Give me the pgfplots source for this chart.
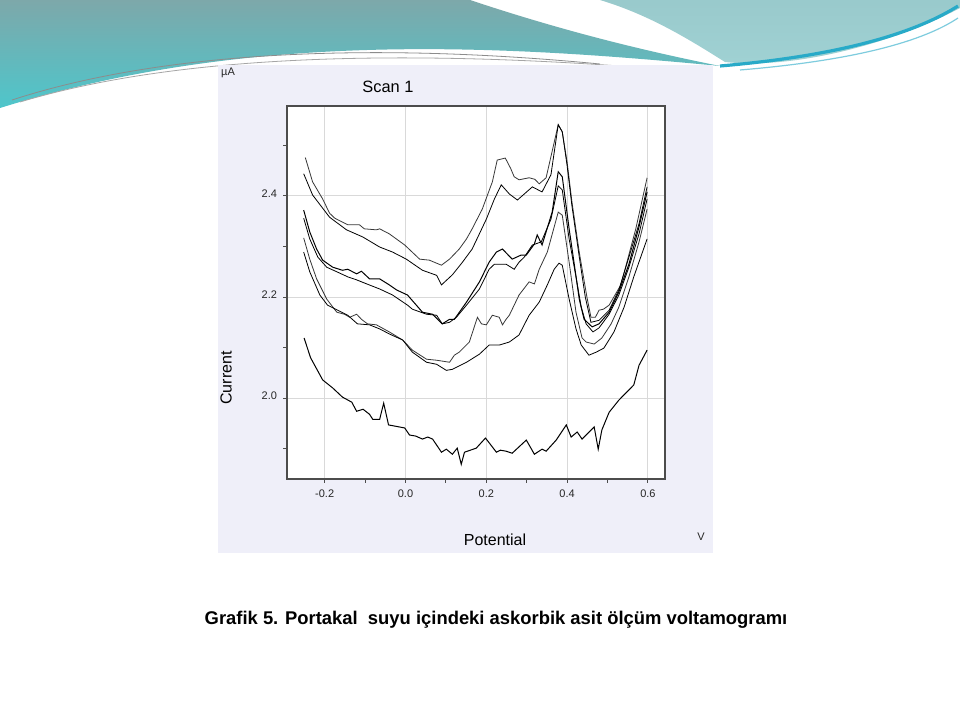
\documentclass[border=0pt]{standalone}
\usepackage{fontspec}
\setmainfont{Liberation Sans}
\usepackage{pgfplots}
\pgfplotsset{compat=1.18}
\definecolor{panel}{RGB}{239,239,249}
\definecolor{curve}{RGB}{55,55,55}
\definecolor{tealA}{RGB}{125,168,170}
\definecolor{tealB}{RGB}{78,198,203}
\definecolor{tealC}{RGB}{160,210,212}
\definecolor{tealD}{RGB}{40,170,200}
\begin{document}
\begin{tikzpicture}
\begin{scope}[x=0.5pt,y=-0.5pt]
\useasboundingbox (0,0) rectangle (960,716);
\fill[white] (0,0) rectangle (960,716);
% decoration
\shade[top color=tealA, bottom color=tealB]
  (0,0) -- (470,0) .. controls (560,30) and (640,50) .. (720,66)
  .. controls (500,45) and (250,30) .. (0,108) -- cycle;
\shade[top color=tealC!80!tealA, bottom color=tealC]
  (600,0) -- (960,0) -- (960,8) .. controls (900,40) and (800,70) .. (725,62)
  .. controls (690,40) and (650,15) .. (600,0) -- cycle;
\draw[black!45, line width=0.4pt] (12,100) .. controls (150,55) and (350,40) .. (600,64);
\draw[black!35, line width=0.4pt] (20,102) .. controls (160,60) and (360,48) .. (620,66);
\draw[tealD, line width=1.6pt] (720,66) .. controls (850,55) and (920,30) .. (958,6);
\draw[tealD!60, line width=0.6pt] (740,70) .. controls (860,60) and (925,40) .. (958,18);
% panel
\fill[panel] (218,65) rectangle (713,553);
\end{scope}
\begin{axis}[
  at={(143.5pt,-239.5pt)}, anchor=south west,
  scale only axis, width=189pt, height=186.5pt,
  xmin=-0.2933, xmax=0.6423, ymin=1.840, ymax=2.578,
  xtick={-0.2,0,0.2,0.4,0.6}, xticklabels={-0.2,0.0,0.2,0.4,0.6},
  minor xtick={-0.1,0.1,0.3,0.5},
  ytick={2.0,2.2,2.4}, yticklabels={2.0,2.2,2.4},
  minor ytick={1.9,2.1,2.3,2.5},
  xtick pos=bottom, ytick pos=left,
  tick align=outside, major tick length=2pt, minor tick length=2pt,
  xmajorgrids, ymajorgrids,
  major grid style={draw=black!15, line width=0.5pt},
  axis line style={draw=black!70, line width=0.6pt},
  every tick/.style={draw=black!70, line width=0.5pt},
  ticklabel style={font=\fontsize{5.5}{6}\selectfont, text=black!85},
  yticklabel style={yshift=1pt, xshift=0.5pt},
  axis background/.style={fill=white},
  cycle list={{draw=curve, solid, line width=0.5pt, mark=none}},
]
% A
\addplot coordinates {(-0.248,2.476) (-0.230,2.428) (-0.205,2.394) (-0.188,2.366) (-0.175,2.356) (-0.143,2.343) (-0.114,2.343) (-0.102,2.335) (-0.072,2.333) (-0.064,2.335) (-0.040,2.325) (-0.002,2.303) (0.035,2.275) (0.059,2.273) (0.089,2.263) (0.109,2.275) (0.133,2.295) (0.151,2.315) (0.165,2.335) (0.190,2.374) (0.215,2.428) (0.227,2.471) (0.247,2.475) (0.260,2.455) (0.269,2.438) (0.281,2.432) (0.306,2.436) (0.320,2.433) (0.331,2.424) (0.348,2.436) (0.378,2.541) (0.388,2.527) (0.400,2.467) (0.412,2.388) (0.430,2.289) (0.449,2.200) (0.459,2.160) (0.470,2.160) (0.479,2.174) (0.490,2.176) (0.504,2.184) (0.533,2.224) (0.570,2.335) (0.598,2.436)};
% B
\addplot coordinates {(-0.252,2.444) (-0.230,2.402) (-0.188,2.358) (-0.146,2.333) (-0.106,2.319) (-0.064,2.299) (-0.032,2.289) (0.002,2.275) (0.042,2.253) (0.077,2.243) (0.089,2.224) (0.116,2.244) (0.141,2.269) (0.165,2.295) (0.200,2.354) (0.220,2.394) (0.237,2.422) (0.257,2.404) (0.277,2.392) (0.314,2.418) (0.338,2.408) (0.360,2.442) (0.378,2.541) (0.388,2.527) (0.400,2.460) (0.412,2.380) (0.430,2.280) (0.445,2.200) (0.459,2.150) (0.479,2.154) (0.504,2.174) (0.528,2.214) (0.553,2.279) (0.578,2.345) (0.598,2.418)};
% C
\addplot coordinates {(-0.252,2.372) (-0.237,2.329) (-0.220,2.295) (-0.205,2.273) (-0.180,2.259) (-0.156,2.253) (-0.143,2.255) (-0.121,2.246) (-0.109,2.251) (-0.089,2.236) (-0.064,2.236) (-0.040,2.224) (-0.022,2.214) (0.005,2.204) (0.042,2.170) (0.067,2.166) (0.091,2.147) (0.109,2.156) (0.121,2.156) (0.151,2.190) (0.183,2.230) (0.207,2.269) (0.225,2.289) (0.240,2.295) (0.252,2.285) (0.264,2.275) (0.286,2.283) (0.299,2.283) (0.319,2.305) (0.326,2.323) (0.338,2.303) (0.363,2.368) (0.378,2.448) (0.388,2.438) (0.405,2.335) (0.417,2.269) (0.430,2.196) (0.442,2.156) (0.462,2.141) (0.479,2.147) (0.504,2.170) (0.528,2.210) (0.553,2.265) (0.578,2.339) (0.598,2.408)};
% D
\addplot coordinates {(-0.252,2.356) (-0.237,2.315) (-0.217,2.279) (-0.195,2.259) (-0.170,2.250) (-0.143,2.240) (-0.121,2.234) (-0.096,2.226) (-0.064,2.216) (-0.032,2.204) (0.005,2.184) (0.017,2.176) (0.052,2.166) (0.077,2.164) (0.091,2.147) (0.109,2.150) (0.126,2.160) (0.151,2.184) (0.183,2.216) (0.207,2.255) (0.220,2.265) (0.249,2.265) (0.269,2.255) (0.281,2.269) (0.294,2.279) (0.314,2.303) (0.336,2.309) (0.360,2.354) (0.378,2.420) (0.388,2.412) (0.405,2.315) (0.422,2.240) (0.435,2.180) (0.447,2.147) (0.464,2.131) (0.479,2.139) (0.504,2.166) (0.528,2.204) (0.553,2.259) (0.578,2.325) (0.598,2.394)};
% E
\addplot coordinates {(-0.252,2.317) (-0.237,2.275) (-0.220,2.236) (-0.195,2.196) (-0.170,2.170) (-0.151,2.166) (-0.138,2.160) (-0.121,2.166) (-0.109,2.156) (-0.094,2.147) (-0.072,2.145) (-0.040,2.131) (-0.007,2.115) (0.017,2.095) (0.052,2.077) (0.077,2.075) (0.109,2.071) (0.121,2.085) (0.133,2.091) (0.158,2.111) (0.178,2.160) (0.188,2.147) (0.200,2.145) (0.215,2.164) (0.232,2.160) (0.240,2.145) (0.249,2.156) (0.257,2.164) (0.281,2.204) (0.306,2.230) (0.319,2.226) (0.331,2.255) (0.351,2.289) (0.378,2.368) (0.388,2.362) (0.405,2.269) (0.422,2.170) (0.437,2.119) (0.447,2.111) (0.467,2.107) (0.486,2.119) (0.509,2.147) (0.528,2.180) (0.553,2.240) (0.578,2.309) (0.598,2.374)};
% F
\addplot coordinates {(-0.252,2.289) (-0.237,2.250) (-0.212,2.204) (-0.193,2.184) (-0.168,2.174) (-0.143,2.164) (-0.119,2.147) (-0.089,2.145) (-0.064,2.137) (-0.040,2.127) (-0.007,2.115) (0.017,2.091) (0.052,2.071) (0.077,2.067) (0.101,2.055) (0.116,2.057) (0.151,2.071) (0.183,2.087) (0.207,2.105) (0.232,2.105) (0.257,2.111) (0.281,2.125) (0.306,2.164) (0.331,2.190) (0.351,2.224) (0.368,2.255) (0.380,2.267) (0.388,2.263) (0.405,2.196) (0.422,2.137) (0.435,2.105) (0.454,2.085) (0.472,2.091) (0.491,2.099) (0.516,2.131) (0.541,2.180) (0.565,2.240) (0.598,2.315)};
% G
\addplot coordinates {(-0.251,2.119) (-0.235,2.080) (-0.205,2.036) (-0.180,2.020) (-0.156,2.002) (-0.133,1.992) (-0.121,1.974) (-0.105,1.978) (-0.089,1.968) (-0.081,1.958) (-0.064,1.958) (-0.054,1.990) (-0.042,1.947) (-0.002,1.941) (0.010,1.927) (0.025,1.925) (0.042,1.919) (0.055,1.923) (0.067,1.919) (0.089,1.893) (0.101,1.899) (0.116,1.889) (0.128,1.901) (0.138,1.869) (0.146,1.893) (0.175,1.901) (0.198,1.921) (0.225,1.893) (0.235,1.897) (0.249,1.895) (0.264,1.891) (0.299,1.917) (0.319,1.889) (0.338,1.899) (0.348,1.895) (0.373,1.917) (0.398,1.947) (0.410,1.923) (0.425,1.933) (0.437,1.919) (0.467,1.943) (0.477,1.899) (0.486,1.937) (0.504,1.972) (0.528,1.996) (0.565,2.026) (0.578,2.065) (0.598,2.095)};
\end{axis}
\begin{scope}[x=0.5pt,y=-0.5pt]
\node[font=\fontsize{5.5}{6}\selectfont, text=black!85] at (228,73) {µA};
\node[font=\fontsize{8.2}{9}\selectfont] at (388,87) {Scan 1};
\node[font=\fontsize{8}{9}\selectfont, rotate=90] at (226,378) {Current};
\node[font=\fontsize{8}{9}\selectfont] at (495,540) {Potential};
\node[font=\fontsize{5.5}{6}\selectfont, text=black!85] at (701,537) {V};
\node[font=\bfseries\fontsize{9.2}{11}\selectfont] at (496,620) {Grafik 5. Portakal\ \ suyu içindeki askorbik asit ölçüm voltamogramı};
\end{scope}
\end{tikzpicture}
\end{document}
